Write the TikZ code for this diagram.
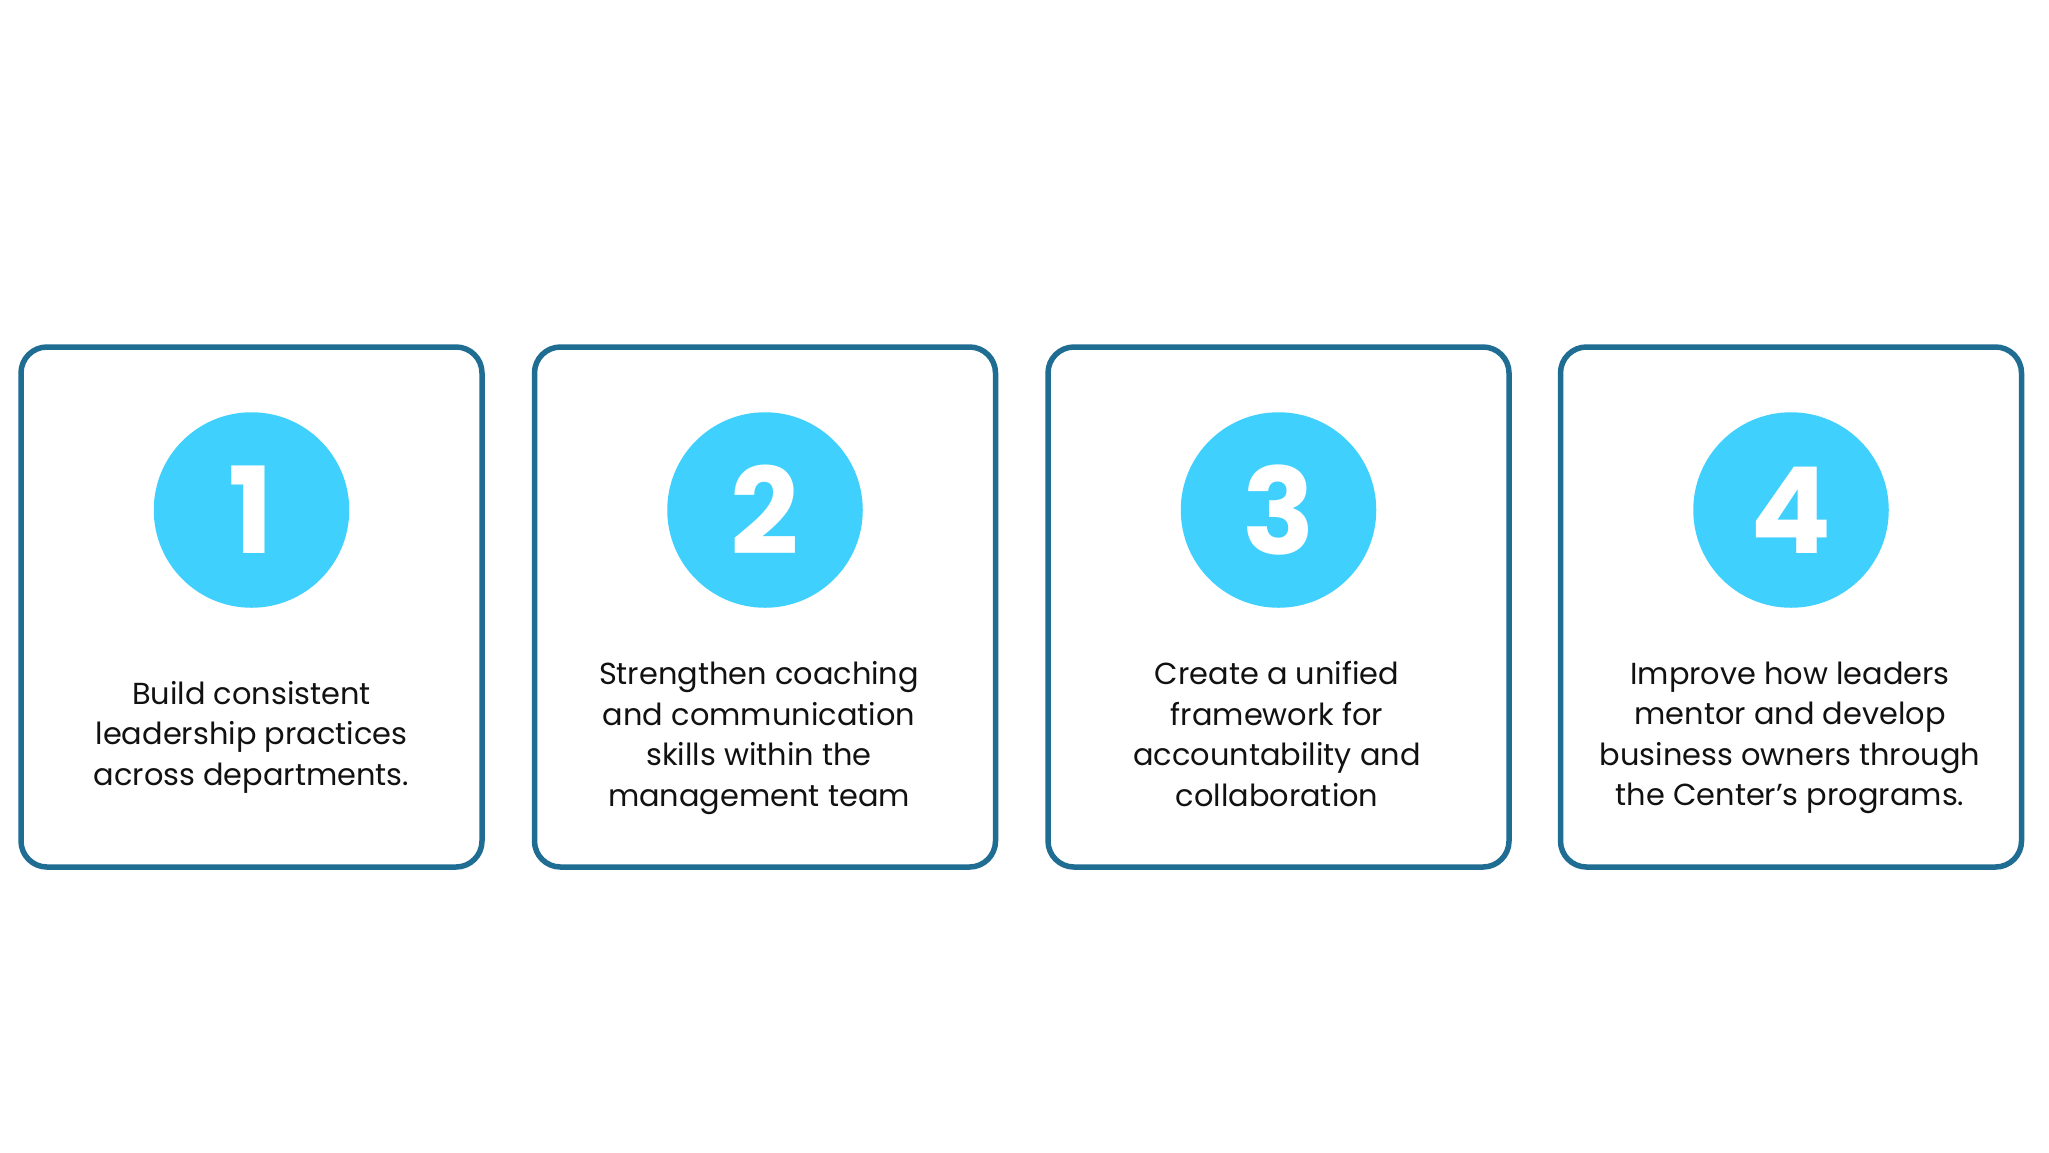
\documentclass[tikz,border=0pt]{standalone}
\usepackage{fontspec}
\setmainfont{Poppins}
\definecolor{boxblue}{HTML}{1F6D93}
\definecolor{discblue}{HTML}{3FD0FE}
\definecolor{txt}{HTML}{111111}
\begin{document}
\begin{tikzpicture}[x=0.5pt,y=-0.5pt,
  card/.style={draw=boxblue, line width=2.75pt, rounded corners=13pt,
    minimum width=230.5pt, minimum height=260pt, inner sep=0pt},
  disc/.style={circle, fill=discblue, minimum size=97.75pt, inner sep=0pt,
    text=white, font=\fontsize{60}{60}\selectfont\bfseries},
  caption/.style={align=center, text=txt, inner sep=0pt,
    font=\fontsize{15.2}{20.25}\selectfont}]
\useasboundingbox (0,0) rectangle (2049,1152);
\fill[white] (0,0) rectangle (2049,1152);
\foreach \i/\cx in {1/251.5,2/765,3/1278.5,4/1791}{
  \node[card] (card\i) at (\cx,607) {};
  \node[disc] (disc\i) at (\cx,510) {\i};
}
\node[caption] (t1) at (251.5,737) {Build consistent\\leadership practices\\across departments.};
\node[caption] (t2) at (759,738) {Strengthen coaching\\and communication\\skills within the\\management team};
\node[caption] (t3) at (1277,734) {Create a unified\\framework for\\accountability and\\collaboration};
\node[caption] (t4) at (1790,738) {Improve how leaders\\mentor and develop\\business owners through\\the Center’s programs.};
\end{tikzpicture}
\end{document}
